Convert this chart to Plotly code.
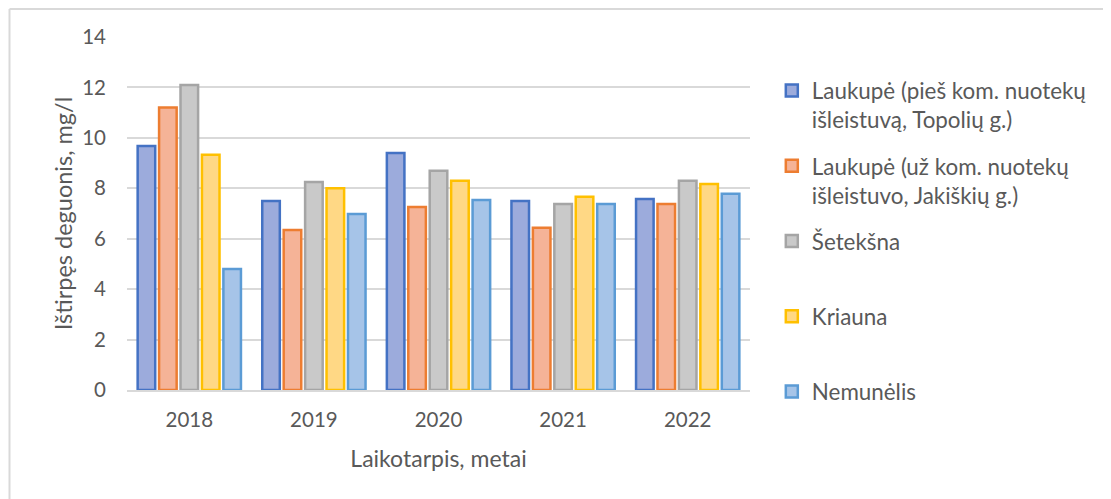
import plotly.graph_objects as go

YEARS = ["2018", "2019", "2020", "2021", "2022"]

SERIES_NAMES = [
    "Laukupė (pieš kom. nuotekų<br>išleistuvą, Topolių g.)",
    "Laukupė (už kom. nuotekų<br>išleistuvo, Jakiškių g.)",
    "Šetekšna<br>&nbsp;",
    "Kriauna<br>&nbsp;",
    "Nemunėlis",
]

LAUKUPE_TOPOLIU = [9.68, 7.5, 9.4, 7.5, 7.58]
LAUKUPE_JAKISKIU = [11.2, 6.35, 7.26, 6.43, 7.38]
SETEKSNA = [12.1, 8.25, 8.7, 7.38, 8.3]
KRIAUNA = [9.33, 8.0, 8.3, 7.66, 8.17]
NEMUNELIS = [4.8, 6.98, 7.54, 7.38, 7.78]

VALUES = [LAUKUPE_TOPOLIU, LAUKUPE_JAKISKIU, SETEKSNA, KRIAUNA, NEMUNELIS]

FILLS = ["#9CABDC", "#F5B397", "#C9C9C9", "#FFD885", "#A6C4E8"]
EDGES = ["#4472C4", "#ED7D31", "#A5A5A5", "#FFC000", "#5B9BD5"]

TEXT = "#595959"
GRID = "#D9D9D9"
FONT = "Lato, Open Sans, sans-serif"

# the page body adds an 8px margin, so the figure is 8px smaller than the
# window and every pixel position below is already shifted by -8
W, H = 1103, 491
L, R, T, B = 119, 361, 29, 109
PW, PH = W - L - R, H - T - B


def px_x(px):
    return (px - L) / PW


def px_y(py):
    return (H - B - py) / PH


fig = go.Figure()
for name, vals, fill, edge in zip(SERIES_NAMES, VALUES, FILLS, EDGES):
    fig.add_trace(
        go.Bar(
            x=YEARS, y=vals, name=name, legendgroup=name,
            marker=dict(color=fill, line=dict(color=edge, width=2.5)),
        )
    )

fig.update_layout(
    width=W, height=H,
    margin=dict(l=L, r=R, t=T, b=B, autoexpand=False),
    paper_bgcolor="white", plot_bgcolor="white",
    font=dict(family=FONT, color=TEXT, size=20),
    barmode="group", bargap=0.14, bargroupgap=0.18,
    legend=dict(
        x=1.035, xanchor="left", y=0.908, yanchor="top",
        valign="top", tracegroupgap=14, maxheight=2000,
        font=dict(size=22.4, color=TEXT),
    ),
    shapes=[
        dict(type="line", xref="paper", yref="paper",
             x0=px_x(1.5), x1=px_x(W), y0=px_y(1), y1=px_y(1),
             line=dict(color=GRID, width=2)),
        dict(type="line", xref="paper", yref="paper",
             x0=px_x(1.5), x1=px_x(1.5), y0=px_y(1), y1=px_y(H),
             line=dict(color=GRID, width=2)),
    ],
)
fig.update_xaxes(
    title_text="Laikotarpis, metai", title_standoff=21, automargin=False,
    title_font=dict(size=23),
    showgrid=False, showline=True, linecolor=GRID, linewidth=2,
    ticks="", ticklabelstandoff=10, tickfont=dict(size=20.5),
)
fig.update_yaxes(
    title_text="Ištirpęs deguonis, mg/l", title_standoff=2, automargin=False,
    title_font=dict(size=23.5),
    range=[0, 14], dtick=2, showgrid=True, gridcolor=GRID, gridwidth=1.5,
    zeroline=False, ticks="", ticklabelstandoff=20, tickfont=dict(size=20.5),
)

fig.write_html("out.html")
